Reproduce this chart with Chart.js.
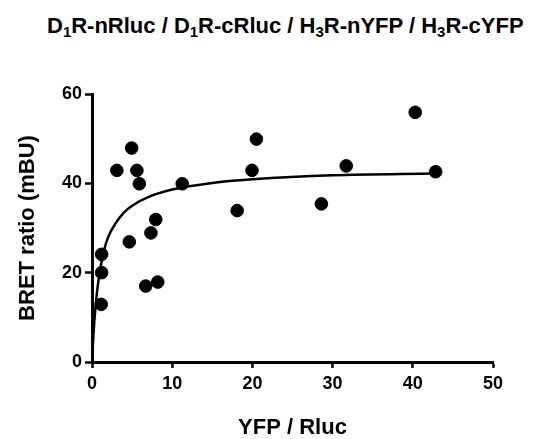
<!DOCTYPE html>
<html>
<head>
<meta charset="utf-8">
<script src="https://cdn.jsdelivr.net/npm/chart.js@4.4.1/dist/chart.umd.min.js"></script>
<style>
  body { margin: 0; background: #fff; }
  #wrap { position: relative; width: 538px; height: 439px; }
  #title {
    position: absolute; left: 47px; top: 15px;
    font: bold 22px "Liberation Sans", Arial, sans-serif;
    line-height: 22px; color: #000; white-space: nowrap;
  }
  #title sub { font-size: 0.68em; vertical-align: -0.28em; line-height: 0; }
  canvas { position: absolute; left: 0; top: 0; }
</style>
</head>
<body>
<div id="wrap">
  <div id="title">D<sub>1</sub>R-nRluc / D<sub>1</sub>R-cRluc / H<sub>3</sub>R-nYFP / H<sub>3</sub>R-cYFP</div>
  <canvas id="chart" width="538" height="439"></canvas>
</div>
<script>
// measured points (YFP/Rluc vs BRET ratio)
const ratioX = [1.2, 1.2, 1.15, 3.1, 4.95, 5.6, 5.9, 4.65, 7.35, 7.95, 6.7, 8.2, 11.25, 18.1, 19.95, 20.5, 28.6, 31.7, 40.3, 42.85];
const bretY = [24.1, 20, 12.9, 42.9, 47.9, 42.9, 39.9, 26.9, 28.9, 31.9, 17, 17.9, 39.9, 33.9, 42.9, 49.9, 35.4, 43.9, 55.9, 42.6];

// saturation curve
const curveX = [0, 0.2, 0.4, 0.7, 1, 1.5, 2, 3, 4, 5, 7, 10, 15, 20, 30, 42.8];
const curveY = [0, 6.7, 11.5, 16.8, 20.6, 25, 27.9, 31.2, 33.5, 35.0, 36.9, 38.6, 40.1, 40.9, 41.8, 42.2];

const xTicks = [0, 10, 20, 30, 40, 50];
const yTicks = [0, 20, 40, 60];

const tickFont = { family: '"Liberation Sans", Arial, sans-serif', size: 18, weight: 'bold' };
const titleFont = { family: '"Liberation Sans", Arial, sans-serif', size: 22, weight: 'bold', lineHeight: 1 };

new Chart(document.getElementById('chart'), {
    type: 'scatter',
    data: {
        datasets: [
            {
                data: ratioX.map((x, i) => ({ x: x, y: bretY[i] })),
                backgroundColor: '#000',
                borderColor: '#000',
                pointRadius: 6.3,
                pointHoverRadius: 6.3,
                order: 1
            },
            {
                data: curveX.map((x, i) => ({ x: x, y: curveY[i] })),
                showLine: true,
                borderColor: '#000',
                borderWidth: 2.5,
                pointRadius: 0,
                cubicInterpolationMode: 'monotone',
                order: 2
            }
        ]
    },
    options: {
        responsive: false,
        animation: false,
        layout: { padding: { top: 94, right: 45, left: 0, bottom: 0 } },
        plugins: { legend: { display: false }, tooltip: { enabled: false } },
        scales: {
            x: {
                type: 'linear',
                min: 0, max: 50,
                afterBuildTicks: s => { s.ticks = xTicks.map(v => ({ value: v })); },
                afterFit: s => { s.height = 77; },
                border: { display: true, color: '#000', width: 3 },
                grid: { drawOnChartArea: false, drawTicks: true, tickLength: 6, tickWidth: 2.5, tickColor: '#000' },
                ticks: { color: '#000', font: tickFont, padding: 5, maxRotation: 0 },
                title: { display: true, text: 'YFP / Rluc', color: '#000', font: titleFont, padding: { top: 0, bottom: 0 } }
            },
            y: {
                type: 'linear',
                min: 0, max: 60,
                afterBuildTicks: s => { s.ticks = yTicks.map(v => ({ value: v })); },
                afterFit: s => { s.width = 92; },
                border: { display: true, color: '#000', width: 3 },
                grid: { drawOnChartArea: false, drawTicks: true, tickLength: 7, tickWidth: 2.5, tickColor: '#000' },
                ticks: { color: '#000', font: tickFont, padding: 3 },
                title: { display: true, text: 'BRET ratio (mBU)', color: '#000', font: titleFont, padding: { top: 17, bottom: 0 } }
            }
        }
    }
});
</script>
</body>
</html>
